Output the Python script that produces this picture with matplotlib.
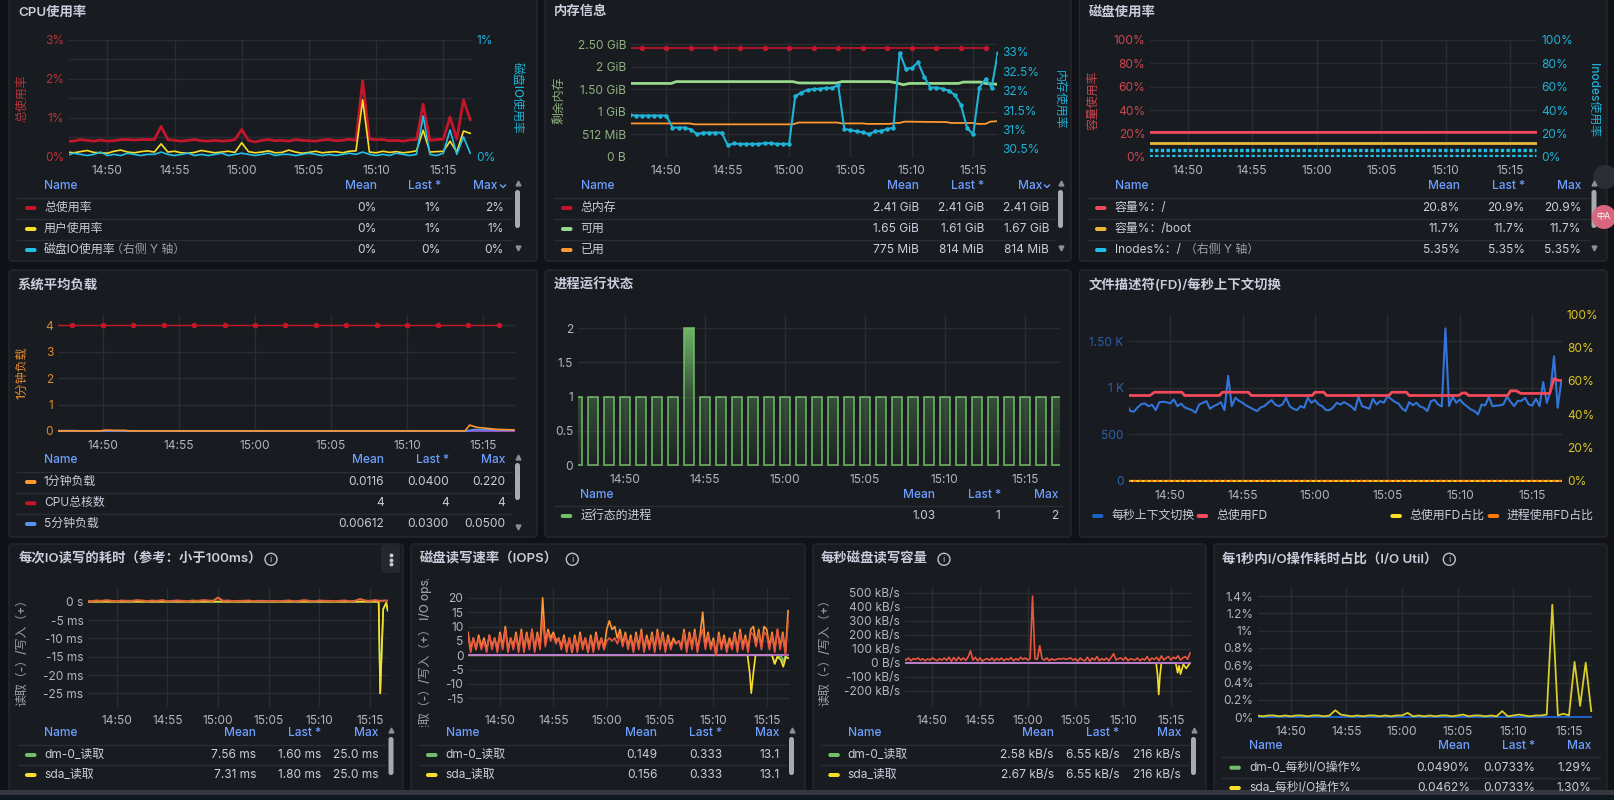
import numpy as np
import matplotlib
matplotlib.use('Agg')
import matplotlib.pyplot as plt
from matplotlib.patches import FancyBboxPatch, Circle, PathPatch, Rectangle
from matplotlib.path import Path
from matplotlib.colors import LinearSegmentedColormap, to_rgb
from matplotlib.transforms import Bbox, TransformedBbox

plt.rcParams['font.family'] = ['Inter', 'Noto Sans CJK SC', 'DejaVu Sans']

# ---------------- data (time = minutes after 14:00) ----------------
TICKS = [50, 55, 60, 65, 70, 75]
TICK_LABELS = ['14:50', '14:55', '15:00', '15:05', '15:10', '15:15']
T30 = 47.0 + 0.5 * np.arange(61)    # 30 s samples
T15 = 47.0 + 0.25 * np.arange(121)  # 15 s samples

# CPU usage (%)
CPU_TOTAL = [0.40, 0.40, 0.44, 0.42, 0.40, 0.43, 0.40, 0.41, 0.44, 0.44, 0.43, 0.44, 0.44, 0.44,
             0.78,
             0.44, 0.42, 0.40, 0.42, 0.44, 0.41, 0.40, 0.42, 0.40, 0.41, 0.44,
             0.70,
             0.42, 0.38, 0.42, 0.44, 0.41, 0.42, 0.40, 0.44, 0.42, 0.41, 0.40, 0.43, 0.44, 0.41,
             0.42, 0.45, 0.42,
             1.95,
             0.45, 0.44, 0.44, 0.41, 0.42, 0.40, 0.43, 0.44,
             1.35,
             0.42, 0.44, 0.45,
             1.02, 0.45, 1.46, 0.95]
CPU_USER = [0.12, 0.10, 0.13, 0.16, 0.11, 0.10, 0.09, 0.14, 0.17, 0.12, 0.10, 0.13, 0.15, 0.12,
            0.33,
            0.12, 0.14, 0.10, 0.09, 0.11, 0.16, 0.13, 0.10, 0.12, 0.14, 0.11,
            0.36,
            0.13, 0.10, 0.12, 0.15, 0.10, 0.11, 0.17, 0.12, 0.09, 0.11, 0.14, 0.10, 0.12, 0.13,
            0.10, 0.14, 0.15,
            1.46,
            0.12, 0.10, 0.14, 0.11, 0.13, 0.10, 0.12, 0.15,
            0.68,
            0.12, 0.13, 0.14,
            0.40, 0.12, 0.66, 0.60]
CPU_IO = [0.01, 0.03, 0.02, 0.01, 0.02, 0.04, 0.01, 0.02, 0.01, 0.03, 0.02, 0.01, 0.02, 0.02,
          0.04,
          0.02, 0.01, 0.02, 0.03, 0.01, 0.02, 0.01, 0.02, 0.03, 0.01, 0.02,
          0.03,
          0.02, 0.01, 0.02, 0.03, 0.01, 0.02, 0.02, 0.01, 0.02, 0.03, 0.02, 0.01, 0.02, 0.01,
          0.02, 0.03, 0.02,
          0.04,
          0.02, 0.01, 0.02, 0.01, 0.03, 0.02, 0.01, 0.02,
          0.35,
          0.02, 0.01, 0.03,
          0.23, 0.02, 0.17, 0.03]

# memory (GiB / %)
MEM_TOTAL_T = [47.0, 48, 50, 52, 54, 56, 58, 60, 62, 64, 66, 68, 70, 72, 74, 76]
MEM_TOTAL = [2.41, 2.41, 2.41, 2.41, 2.41, 2.41, 2.41, 2.41,
             2.41, 2.41, 2.41, 2.41, 2.41, 2.41, 2.41, 2.41]
MEM_AVAIL_T = [47.0, 50.4, 50.8, 60.3, 60.8, 63.9, 64.3, 68.2, 68.8, 69.3, 69.8,
               73.8, 74.2, 75.6, 76.0, 77.0]
MEM_AVAIL = [1.63, 1.63, 1.67, 1.67, 1.64, 1.64, 1.67, 1.67, 1.64, 1.60, 1.63,
             1.63, 1.66, 1.66, 1.63, 1.61]
MEM_USED_T = [47.0, 51.9, 52.3, 60.3, 60.8, 63.9, 64.3, 66.0, 66.4, 68.2, 68.6, 69.0, 69.4,
              72.8, 73.2, 75.0, 75.4, 76.0, 76.4, 77.0]
MEM_USED = [0.74, 0.74, 0.72, 0.72, 0.76, 0.76, 0.74, 0.74, 0.73, 0.73, 0.75, 0.75, 0.78,
            0.77, 0.75, 0.75, 0.73, 0.73, 0.78, 0.79]
MEM_PCT = [31.38, 31.36, 31.36, 31.36, 31.36, 31.36, 31.36,
           31.05, 31.05, 31.05, 31.00, 30.88, 30.92, 30.92, 30.92, 30.92,
           30.60, 30.64, 30.63, 30.63, 30.63, 30.63, 30.65, 30.65, 30.63, 30.63, 30.63,
           31.86, 31.95, 32.02, 32.04, 32.05, 32.07, 32.07, 32.14,
           31.01, 30.99, 30.95, 30.93, 30.88, 30.95, 30.97, 31.01, 31.05,
           32.98, 32.57, 32.58, 32.73, 32.36, 32.08, 32.08, 32.05, 32.00, 31.89, 31.63, 31.03,
           30.88,
           32.08, 32.30, 32.08, 32.98]

# disk usage (%)
DISK_T = [47.0, 77.0]
DISK_ROOT = [20.8, 20.9]
DISK_BOOT = [11.7, 11.7]
INODE_ROOT = [5.35, 5.35]
INODE_BOOT = [0.35, 0.35]

# load average
CORES_T = [47.0, 48, 50, 52, 54, 56, 58, 60, 62, 64, 66, 68, 70, 72, 74, 76]
CORES = [4, 4, 4, 4, 4, 4, 4, 4, 4, 4, 4, 4, 4, 4, 4, 4]
LOAD1_T = [47.0, 49.8, 50.2, 50.8, 51.4, 51.8, 73.8, 74.1, 74.6, 75.2, 75.8, 76.3, 77.0]
LOAD1 = [0, 0, 0.03, 0.02, 0.02, 0, 0, 0.22, 0.13, 0.10, 0.06, 0.05, 0.04]
LOAD5_T = [47.0, 48.2, 48.6, 73.9, 74.4, 75.5, 76.5, 77.0]
LOAD5 = [0.01, 0.01, 0, 0, 0.05, 0.04, 0.03, 0.03]
LOAD15_T = [47.0, 77.0]
LOAD15 = [0, 0]

# running processes (one bar per minute)
PROC_T = [47, 48, 49, 50, 51, 52, 53, 54, 55, 56, 57, 58, 59, 60, 61, 62,
          63, 64, 65, 66, 67, 68, 69, 70, 71, 72, 73, 74, 75, 76, 77]
PROC_RUNNING = [1, 1, 1, 1, 1, 1, 1, 2, 1, 1, 1, 1, 1, 1, 1, 1,
                1, 1, 1, 1, 1, 1, 1, 1, 1, 1, 1, 1, 1, 1, 1]

# context switches / file descriptors
CTX_SWITCH = [821, 750, 745, 790, 825, 832, 803, 818, 760, 846,
              850, 845, 832, 875, 803, 830, 790, 775, 760, 732,
              821, 839, 857, 775, 803, 821, 846, 760, 1130, 803,
              893, 860, 839, 810, 790, 768, 750, 790, 803, 839,
              868, 820, 803, 821, 893, 803, 775, 760, 803, 786,
              893, 839, 868, 820, 803, 760, 760, 790, 839, 821,
              846, 825, 800, 760, 904, 803, 790, 775, 882, 821,
              857, 839, 911, 880, 850, 832, 780, 750, 846, 814,
              839, 800, 786, 750, 857, 870, 820, 800, 1640, 803,
              904, 839, 875, 830, 800, 768, 750, 714, 821, 810,
              904, 803, 808, 812, 821, 904, 850, 803, 860, 860,
              893, 821, 810, 882, 803, 1061, 839, 964, 1340, 786,
              1071]
FD_T = [47.0, 48.6, 48.9, 50.8, 51.0, 53.4, 53.6, 55.4, 55.6, 59.8, 60.0, 60.6, 60.8, 65.1,
        65.3, 66.3, 66.5, 69.9, 70.2, 70.4, 70.6, 73.3, 73.5, 73.9, 74.2, 76.2, 76.5, 76.8, 77.0]
FD_TOTAL = [918, 918, 953, 953, 918, 918, 953, 953, 918, 918, 953, 953, 918, 918,
            953, 953, 918, 918, 945, 945, 918, 918, 968, 968, 940, 940, 1100, 1080, 1080]
FD_PCT_T = [47.0, 77.0]
FD_PCT_TOTAL = [0, 0]
FD_PCT_PROC = [0, 0]

# IO latency (ms, read negative)
IO_WRITE = [0.2, 0.1, 0.3, 0.2, 0.4, 0.2, 0.1, 0.3, 0.2, 0.2,
            0.4, 0.3, 0.1, 0.3, 0.2, 0.4, 0.1, 0.2, 0.3, 0.2,
            0.1, 0.3, 0.2, 0.4, 0.3, 0.2, 1.1, 0.2, 0.3, 0.1,
            0.2, 0.2, 0.3, 0.1, 0.2, 0.2, 0.1, 0.2, 0.1, 0.2,
            0.3, 0.1, 0.2, 0.4, 0.2, 0.1, 0.3, 0.2, 0.2, 0.1,
            0.2, 0.3, 0.1, 0.2, 0.7, 0.3, 0.2, 0.4, 0.2, 0.3,
            0.2]
IO_READ_T = [47.0, 75.85, 76.0, 76.3, 76.6, 76.75, 77.0]
IO_READ = [0, 0, -25, -2, -0.3, -2.5, -0.3]

# IOPS (read negative)
IOPS_W_SDA = [8, 2, 6, 2, 7, 3, 6, 2, 7, 3,
              6, 2, 8, 3, 10, 2, 6, 3, 8, 2,
              9, 2, 8, 3, 9, 2, 8, 3, 20, 4,
              9, 6, 8, 5, 6, 3, 7, 2, 6, 1,
              7, 2, 8, 3, 6, 1, 7, 2, 8, 3,
              6, 2, 9, 12, 9, 10, 6, 9, 4, 8,
              3, 7, 2, 8, 3, 9, 2, 7, 3, 8,
              2, 9, 3, 8, 2, 7, 3, 6, 4, 5,
              3, 9, 2, 8, 3, 9, 2, 7, 15, 3,
              8, 3, 6, 0, 8, 3, 7, 2, 6, 3,
              8, 2, 9, 3, 7, 2, 9, 10, 4, 9,
              3, 10, 9, 3, 8, 2, 9, 3, 8, 1,
              15.5]
IOPS_W_DM0 = [7, 1, 6, 2, 6, 2, 5, 1, 7, 2,
              6, 1, 7, 2, 9, 1, 6, 2, 7, 1,
              8, 1, 7, 2, 9, 1, 7, 2, 13, 3,
              8, 5, 7, 4, 6, 2, 6, 1, 6, 1,
              6, 1, 7, 2, 6, 1, 6, 1, 7, 2,
              6, 2, 5, 6, 5, 6, 4, 7, 3, 7,
              2, 6, 1, 7, 2, 8, 1, 6, 2, 7,
              1, 8, 2, 7, 1, 6, 2, 5, 4, 5,
              2, 8, 1, 7, 2, 8, 1, 6, 9, 2,
              7, 2, 5, 0, 7, 2, 6, 1, 5, 2,
              7, 1, 8, 2, 6, 1, 8, 7, 3, 8,
              2, 8, 7, 2, 7, 1, 9, 2, 7, 0,
              12]
IOPS_R_SDA_T = [47.0, 73.2, 73.4, 73.55, 73.75, 73.95, 75.5, 75.75, 76.0, 76.3, 76.55, 76.8, 77.0]
IOPS_R_SDA = [0, 0, -6, -13.2, -6, 0, 0, -3, -0.5, -1.5, -4, -0.5, -1]
IOPS_R_DM0_T = [47.0, 75.5, 75.75, 76.0, 76.4, 76.55, 76.7, 77.0]
IOPS_R_DM0 = [0, 0, -3, -0.5, -0.5, -2.5, -0.5, -1]

# throughput (kB/s, read negative)
BPS_WRITE = [30, 20, 35, 15, 30, 25, 35, 20, 30, 15,
             28, 20, 35, 25, 15, 30, 20, 35, 18, 40,
             12, 38, 15, 40, 20, 35, 18, 42, 85, 20,
             40, 15, 35, 12, 25, 30, 18, 35, 15, 32,
             20, 35, 15, 30, 22, 38, 15, 30, 20, 40,
             25, 35, 20, 30, 475, 30, 25, 122, 30, 20,
             35, 15, 30, 20, 25, 30, 28, 32, 25, 30,
             35, 20, 30, 12, 35, 20, 15, 40, 12, 35,
             20, 45, 15, 30, 20, 35, 15, 40, 65, 20,
             30, 35, 20, 40, 15, 30, 25, 20, 35, 15,
             30, 20, 45, 15, 35, 25, 40, 15, 50, 20,
             35, 45, 20, 40, 30, 50, 20, 35, 45, 25,
             70]
BPS_R_SDA_T = [47.0, 73.45, 73.6, 73.72, 73.85, 74.0, 75.5, 75.7, 75.85, 76.0, 76.3, 76.6, 77.0]
BPS_R_SDA = [0, 0, -90, -225, -90, 0, 0, -70, -20, -80, -10, -40, 0]

# IO util (%)
UTIL_SDA = [0.02, 0.01, 0.02, 0.02, 0.01, 0.02, 0.01, 0.02, 0.02, 0.01, 0.02, 0.02, 0.01, 0.02,
            0.08,
            0.03, 0.02, 0.01, 0.02, 0.01, 0.02, 0.02, 0.01, 0.02, 0.01, 0.02, 0.02,
            0.05,
            0.01, 0.02, 0.01, 0.02, 0.01, 0.02, 0.02, 0.01, 0.02, 0.03, 0.01, 0.02, 0.02, 0.01,
            0.02, 0.01,
            0.07,
            0.01, 0.02, 0.03, 0.02, 0.01, 0.02, 0.02, 0.03,
            1.30,
            0.02, 0.04, 0.02,
            0.64, 0.13, 0.63, 0.07]
ZERO_T = [47.0, 77.0]
ZERO = [0, 0]

# legend tables: name, mean, last, max
CPU_ROWS = [('总使用率', '0%', '1%', '2%'), ('用户使用率', '0%', '1%', '1%'),
            ('磁盘IO使用率', '0%', '0%', '0%')]
MEM_ROWS = [('总内存', '2.41 GiB', '2.41 GiB', '2.41 GiB'), ('可用', '1.65 GiB', '1.61 GiB', '1.67 GiB'),
            ('已用', '775 MiB', '814 MiB', '814 MiB')]
DISK_ROWS = [('容量%：/', '20.8%', '20.9%', '20.9%'), ('容量%：/boot', '11.7%', '11.7%', '11.7%'),
             ('Inodes%：/', '5.35%', '5.35%', '5.35%')]
LOAD_ROWS = [('1分钟负载', '0.0116', '0.0400', '0.220'), ('CPU总核数', '4', '4', '4'),
             ('5分钟负载', '0.00612', '0.0300', '0.0500')]
PROC_ROWS = [('运行态的进程', '1.03', '1', '2')]
LAT_ROWS = [('dm-0_读取', '7.56 ms', '1.60 ms', '25.0 ms'), ('sda_读取', '7.31 ms', '1.80 ms', '25.0 ms')]
IOPS_ROWS = [('dm-0_读取', '0.149', '0.333', '13.1'), ('sda_读取', '0.156', '0.333', '13.1')]
BPS_ROWS = [('dm-0_读取', '2.58 kB/s', '6.55 kB/s', '216 kB/s'), ('sda_读取', '2.67 kB/s', '6.55 kB/s', '216 kB/s')]
UTIL_ROWS = [('dm-0_每秒I/O操作%', '0.0490%', '0.0733%', '1.29%'), ('sda_每秒I/O操作%', '0.0462%', '0.0733%', '1.30%')]

# ---------------- style ----------------
W, H = 1614, 800
BG = '#111217'
PANEL = '#181b1f'
BORDER = '#25282d'
GRID = '#2a2c31'
TEXT = '#ccccdc'
TICK = '#b4b4be'
HEAD = '#6e9fff'
DIV = '#2a2d33'
MUTED = '#9d9da8'
FS = 8.6
TS = 9.6

RED_D = '#c4162a'
RED = '#f2495c'
YELLOW = '#fade2a'
CYAN = '#22c0e6'
GREEN = '#73bf69'
LGREEN = '#96d98d'
ORANGE = '#ff9830'
BLUE = '#5794f2'
DBLUE = '#1f60c4'
PURPLE = '#a352cc'

fig = plt.figure(figsize=(W / 100, H / 100), dpi=100, facecolor=BG)
bg = fig.add_axes([0, 0, 1, 1])
bg.set_xlim(0, W)
bg.set_ylim(H, 0)
bg.axis('off')


def txt(x, y, s, color=TEXT, size=FS, ha='left', weight='normal', **kw):
    return bg.text(x, y, s, color=color, fontsize=size, ha=ha, va='center',
                   fontweight=weight, **kw)


def panel(x0, y0, x1, y1):
    bg.add_patch(FancyBboxPatch((x0, y0), x1 - x0, y1 - y0,
                                boxstyle='round,pad=0,rounding_size=3',
                                fc=PANEL, ec=BORDER, lw=1))


def swatch(x, y, color):
    bg.add_patch(FancyBboxPatch((x, y - 2), 11.5, 4, boxstyle='round,pad=0,rounding_size=2',
                                fc=color, ec='none'))


def info_icon(x, y):
    bg.add_patch(Circle((x, y), 6, fill=False, ec='#c0c0ca', lw=1))
    txt(x, y + 0.5, 'i', '#c0c0ca', size=6.5, ha='center')


def scrollbar(x, top, bottom, t0, t1):
    bg.plot(x, top, marker='^', ms=3.5, color='#8e8e96')
    if bottom is not None:
        bg.plot(x, bottom, marker='v', ms=3.5, color='#8e8e96')
    bg.add_patch(FancyBboxPatch((x - 2.5, t0), 5, t1 - t0, boxstyle='round,pad=0,rounding_size=2.5',
                                fc='#a9a9b1', ec='none'))


def table(rows, colors, name_x, cols, hy, ys, sw_x, line_x, max_hdr=None, chevron=None):
    txt(name_x, hy, 'Name', HEAD, weight='medium')
    hdr = [cols[0], cols[1], max_hdr if max_hdr else cols[2]]
    for xr, lab in zip(hdr, ['Mean', 'Last *', 'Max']):
        txt(xr, hy, lab, HEAD, ha='right', weight='medium')
    if chevron:
        bg.plot([chevron - 2.5, chevron, chevron + 2.5], [hy - 1, hy + 1.5, hy - 1], color=HEAD, lw=1)
    for y, row, c in zip(ys, rows, colors):
        bg.plot(line_x, [y - 10.5, y - 10.5], color=DIV, lw=1)
        swatch(sw_x, y, c)
        txt(name_x, y, row[0])
        for xr, v in zip(cols, row[1:]):
            txt(xr, y, v, ha='right')


def vlabel(x, y, s, color, rot):
    return txt(x, y, s, color, ha='center', rotation=rot, weight='medium')


def plot_ax(box, xlim, ylim, yticks, ylabels, color=TICK):
    x0, y0, x1, y1 = box
    ax = fig.add_axes([x0 / W, 1 - y1 / H, (x1 - x0) / W, (y1 - y0) / H])
    ax.set_facecolor('none')
    for s in ax.spines.values():
        s.set_visible(False)
    ax.set_xticks(TICKS, TICK_LABELS)
    ax.set_yticks(yticks, ylabels)
    ax.tick_params(length=0, labelsize=FS)
    ax.tick_params(axis='x', pad=6, labelcolor=TICK)
    ax.tick_params(axis='y', pad=3.5, labelcolor=color)
    ax.grid(True, color=GRID, lw=1)
    ax.set_axisbelow(True)
    ax.set_xlim(xlim)
    ax.set_ylim(ylim)
    return ax


def right_ax(ax, ylim, yticks, ylabels, color):
    a2 = ax.twinx()
    for s in a2.spines.values():
        s.set_visible(False)
    a2.set_yticks(yticks, ylabels)
    a2.tick_params(length=0, labelsize=FS, pad=3.5, labelcolor=color)
    a2.set_ylim(ylim)
    return a2


# ---------------- panels ----------------
for box in [(9, -10, 537, 261), (545, -10, 1071, 261), (1079.5, -10, 1607, 261),
            (9, 270, 537, 537), (545, 270, 1071, 537), (1079.5, 270, 1607, 537),
            (9, 544, 403, 815), (411, 544, 805, 815), (813, 544, 1206, 815), (1214, 544, 1607, 815)]:
    panel(*box)

# 1. CPU usage
txt(18, 12, 'CPU使用率', weight='semibold', size=TS)
ax = plot_ax((69, 40, 471.7, 156.7), (47.15, 77.11), (0, 3),
             [0, 0.5, 1, 1.5, 2, 2.5, 3], ['0%', '', '1%', '', '2%', '', '3%'], '#b8343c')
ax.plot(T30, CPU_TOTAL, color=RED_D, lw=2)
ax.plot(T30, CPU_USER, color=YELLOW, lw=1.2)
ax2 = right_ax(ax, (0, 1), [0, 1], ['0%', '1%'], '#1fb0d6')
ax2.plot(T30, CPU_IO, color=CYAN, lw=1.2)
vlabel(22.7, 98, '总使用率', '#b8343c', 90)
vlabel(517, 98, '磁盘IO使用率', '#1fb0d6', 270)
table(CPU_ROWS, [RED_D, YELLOW, CYAN], 44, [377, 441, 504], 186, [208, 229, 250], 25,
      [17, 512], max_hdr=497, chevron=503)
txt(111, 250, '（右侧 Y 轴）', MUTED)
scrollbar(517.5, 183, 248, 190, 228)

# 2. memory
txt(554, 12, '内存信息', weight='semibold', size=TS)
ax = plot_ax((631, 41.7, 997.3, 156.7), (47.12, 76.96), (0, 2.558),
             [0, 0.5, 1, 1.5, 2, 2.5], ['0 B', '512 MiB', '1 GiB', '1.50 GiB', '2 GiB', '2.50 GiB'],
             '#8fb07f')
ax.plot(MEM_TOTAL_T, MEM_TOTAL, color=RED_D, lw=1.2, marker='o', ms=2.8,
        markevery=list(range(1, len(MEM_TOTAL_T))))
ax.plot(MEM_AVAIL_T, MEM_AVAIL, color=LGREEN, lw=2)
ax.plot(MEM_USED_T, MEM_USED, color=ORANGE, lw=1.3)
ax2 = right_ax(ax, (30.30, 33.26), [30.5, 31, 31.5, 32, 32.5, 33],
               ['30.5%', '31%', '31.5%', '32%', '32.5%', '33%'], '#1fb0d6')
ax2.plot(T30, MEM_PCT, color='#1fb3d8', lw=1.5, marker='o', ms=2.2)
vlabel(559.7, 100, '剩余内存', '#8fb07f', 90)
vlabel(1059, 100, '内存使用率', '#1fb0d6', 270)
table(MEM_ROWS, [RED_D, LGREEN, ORANGE], 580.7, [919, 984, 1049], 186, [208, 229, 250], 561,
      [554, 1054], max_hdr=1042, chevron=1047)
scrollbar(1060.5, 183, 248, 190, 228)

# 3. disk usage
txt(1088.5, 12, '磁盘使用率', weight='semibold', size=TS)
pct = ['0%', '20%', '40%', '60%', '80%', '100%']
ax = plot_ax((1150.2, 40, 1536.7, 156.7), (47.10, 77.05), (0, 100),
             [0, 20, 40, 60, 80, 100], pct, '#c9474f')
ax.plot(DISK_T, DISK_ROOT, color=RED, lw=2)
ax.plot(DISK_T, DISK_BOOT, color='#eab839', lw=2)
ax2 = right_ax(ax, (0, 100), [0, 20, 40, 60, 80, 100], pct, '#1fb0d6')
ax2.plot(DISK_T, INODE_ROOT, color=CYAN, lw=2.4, ls=(0, (1, 0.7)))
ax2.plot(DISK_T, INODE_BOOT, color=CYAN, lw=2.4, ls=(0, (1, 0.7)))
vlabel(1093, 100, '容量使用率', '#c9474f', 90)
vlabel(1593, 100, 'Inodes使用率', '#1fb0d6', 270)
table(DISK_ROWS, [RED, '#eab839', CYAN], 1114.7, [1459.7, 1525, 1581.3], 186, [208, 229, 250],
      1095, [1088, 1589])
txt(1184.7, 250, '（右侧 Y 轴）', MUTED)
scrollbar(1594, 183, 248, 190, 228)

# 4. load average
txt(18, 285, '系统平均负载', weight='semibold', size=TS)
ax = plot_ax((58, 315, 515, 431.7), (47.06, 77.08), (-0.03, 4.39),
             [0, 1, 2, 3, 4], ['0', '1', '2', '3', '4'], '#e0892d')
ax.plot(LOAD15_T, LOAD15, color=PURPLE, lw=1.3)
ax.plot(LOAD5_T, LOAD5, color=BLUE, lw=1.2)
ax.plot(LOAD1_T, LOAD1, color=ORANGE, lw=1.2)
ax.plot(CORES_T, CORES, color=RED_D, lw=1, marker='o', ms=3,
        markevery=list(range(1, len(CORES_T))))
vlabel(22.7, 373, '1分钟负载', '#e0892d', 90)
table(LOAD_ROWS, [ORANGE, RED_D, BLUE], 44, [384, 449, 505], 460, [482, 503.3, 524], 25, [17, 512])
scrollbar(517.5, 457, 527, 463, 500)

# 5. running processes
txt(554, 285, '进程运行状态', weight='semibold', size=TS)
ax = plot_ax((578, 315, 1060, 466), (47.08, 77.2), (-0.01, 2.19),
             [0, 0.5, 1, 1.5, 2], ['0', '0.5', '1', '1.5', '2'])
paths = []
for t, v in zip(PROC_T, PROC_RUNNING):
    paths.append(Path([(t - 0.3, 0), (t - 0.3, v), (t + 0.3, v), (t + 0.3, 0), (t - 0.3, 0)],
                      closed=True))
bars = PathPatch(Path.make_compound_path(*paths), fc='none', ec=GREEN, lw=1.2, alpha=0.9, zorder=3)
ax.add_patch(bars)
g = to_rgb(GREEN)
cmap = LinearSegmentedColormap.from_list(
    'bars', [(0, (*g, 0.05)), (0.46, (*g, 0.33)), (0.91, (*g, 0.95)), (1, (*g, 1))])
im = ax.imshow(np.linspace(0, 1, 256).reshape(-1, 1), extent=(46, 78, 0, 2.19), origin='lower',
               aspect='auto', cmap=cmap, zorder=2)
im.set_clip_path(bars)
ax.set_xlim(47.08, 77.2)
ax.set_ylim(-0.01, 2.19)
table(PROC_ROWS, [GREEN], 580.3, [935.3, 1000.7, 1058], 495.3, [516], 560.7, [554, 1062])

# 6. file descriptors / context switches
txt(1088.5, 285, '文件描述符(FD)/每秒上下文切换', weight='semibold', size=TS)
ax = plot_ax((1128.5, 314, 1562, 481.7), (47.12, 77.05), (-10, 1795),
             [0, 500, 1000, 1500], ['0', '500', '1 K', '1.50 K'], '#2f5fae')
ax.plot(T15, CTX_SWITCH, color='#3274d9', lw=1.5)
ax.plot(FD_T, FD_TOTAL, color=RED, lw=2)
ax2 = right_ax(ax, (-0.56, 100), [0, 20, 40, 60, 80, 100], pct, '#d9c42b')
ax2.plot(FD_PCT_T, FD_PCT_TOTAL, color=YELLOW, lw=1.5)
ax2.plot(FD_PCT_T, FD_PCT_PROC, color='#ff780a', lw=2.4, ls=(0, (1, 0.7)))
for sx, lx, c, lab in [(1092, 1111.4, DBLUE, '每秒上下文切换'), (1196.7, 1216.3, RED, '总使用FD'),
                       (1390.4, 1409.7, YELLOW, '总使用FD占比'), (1487.7, 1506.5, '#ff780a', '进程使用FD占比')]:
    swatch(sx, 516, c)
    txt(lx, 516, lab)

# 7. IO latency
txt(18.3, 559.3, '每次IO读写的耗时（参考：小于100ms）', weight='semibold', size=TS)
info_icon(271, 559.3)
bg.add_patch(FancyBboxPatch((381, 545), 19, 28, boxstyle='round,pad=0,rounding_size=3',
                            fc='#24272d', ec='none'))
bg.plot([391.2, 391.2, 391.2], [555, 559.5, 564], 'o', ms=1.8, color='#c8c8d0')
ax = plot_ax((88.3, 587.7, 388.3, 706.7), (47.2, 76.8), (-28.6, 3.8),
             [0, -5, -10, -15, -20, -25], ['0 s', '-5 ms', '-10 ms', '-15 ms', '-20 ms', '-25 ms'])
ax.plot(IO_READ_T, IO_READ, color=GREEN, lw=1.2)
ax.plot(IO_READ_T, IO_READ, color=YELLOW, lw=1.2)
ax.plot(T30, IO_WRITE, color='#e0663c', lw=1.5)
vlabel(22.7, 650, '读取（-）/写入（+）', MUTED, 90)
table(LAT_ROWS, [GREEN, YELLOW], 44.3, [256, 321, 378.3], 733.3, [755, 775], 25, [18, 385])
scrollbar(391, 730, None, 737, 775)

# 8. IOPS
txt(420, 559.3, '磁盘读写速率（IOPS）', weight='semibold', size=TS)
info_icon(572.3, 559.3)
ax = plot_ax((468.3, 588.3, 790, 706.7), (47.03, 77.18), (-17.9, 23.3),
             [20, 15, 10, 5, 0, -5, -10, -15], ['20', '15', '10', '5', '0', '-5', '-10', '-15'])
ax.plot(IOPS_R_DM0_T, IOPS_R_DM0, color=GREEN, lw=1.2)
ax.plot(IOPS_R_SDA_T, IOPS_R_SDA, color=YELLOW, lw=1.2)
ax.plot(ZERO_T, ZERO, color='#b877d9', lw=1.3)
ax.plot(T15, IOPS_W_SDA, color=ORANGE, lw=1.2)
ax.plot(T15, IOPS_W_DM0, color='#e8563f', lw=1.2)
lab = vlabel(425, 652, '读取（-）/写入（+） I/O ops/s', MUTED, 90)
lab.set_clip_box(TransformedBbox(Bbox.from_extents(405 / W, 1 - 727 / H, 445 / W, 1 - 579 / H),
                                 fig.transFigure))
lab.set_clip_on(True)
table(IOPS_ROWS, [GREEN, YELLOW], 445.7, [657.3, 722.3, 779.3], 733.3, [755, 775], 426, [419, 786])
scrollbar(791.5, 730, None, 737, 775)

# 9. throughput
txt(821, 559.3, '每秒磁盘读写容量', weight='semibold', size=TS)
info_icon(944, 559.3)
ax = plot_ax((905, 588.3, 1191, 706.7), (47.14, 77.1), (-312, 531),
             [500, 400, 300, 200, 100, 0, -100, -200],
             ['500 kB/s', '400 kB/s', '300 kB/s', '200 kB/s', '100 kB/s', '0 B/s', '-100 kB/s', '-200 kB/s'])
ax.plot(BPS_R_SDA_T, BPS_R_SDA, color=YELLOW, lw=1.2)
ax.plot(ZERO_T, ZERO, color='#b877d9', lw=1.3)
ax.plot(T15, BPS_WRITE, color='#e8563f', lw=1.2)
vlabel(825.7, 650, '读取（-）/写入（+）', MUTED, 90)
table(BPS_ROWS, [GREEN, YELLOW], 847.7, [1054, 1119.3, 1181], 733.3, [755, 775], 828.3, [821, 1188])
scrollbar(1193.5, 730, None, 737, 775)

# 10. IO util
txt(1222.3, 559.3, '每1秒内I/O操作耗时占比（I/O Util）', weight='semibold', size=TS)
info_icon(1449.3, 559.3)
ax = plot_ax((1258.3, 588.3, 1592.7, 717.7), (47.09, 77.13), (-0.006, 1.49),
             [0, 0.2, 0.4, 0.6, 0.8, 1.0, 1.2, 1.4],
             ['0%', '0.2%', '0.4%', '0.6%', '0.8%', '1%', '1.2%', '1.4%'])
ax.plot(ZERO_T, ZERO, color=DBLUE, lw=1.5)
ax.plot(T30, UTIL_SDA, color='#d8cc2a', lw=1.3)
table(UTIL_ROWS, [GREEN, YELLOW], 1249, [1470, 1535, 1591.7], 746, [767.7, 788], 1229.3, [1222, 1600])

# window edge at the bottom and floating browser widgets at the right edge
bg.add_patch(Rectangle((0, 789.5), W, 5.5, fc='#34373d', ec='none'))
bg.add_patch(Rectangle((0, 795), W, 6, fc='#0d1720', ec='none'))
bg.add_patch(Circle((1605, 177), 12, fc='#2a2d35', ec='none'))
bg.add_patch(Circle((1604, 217), 12, fc='#d9667f', ec='none'))
txt(1603, 217, '中A', '#ffffff', size=6, ha='center')

fig.savefig('out.png', dpi=100, facecolor=BG)
